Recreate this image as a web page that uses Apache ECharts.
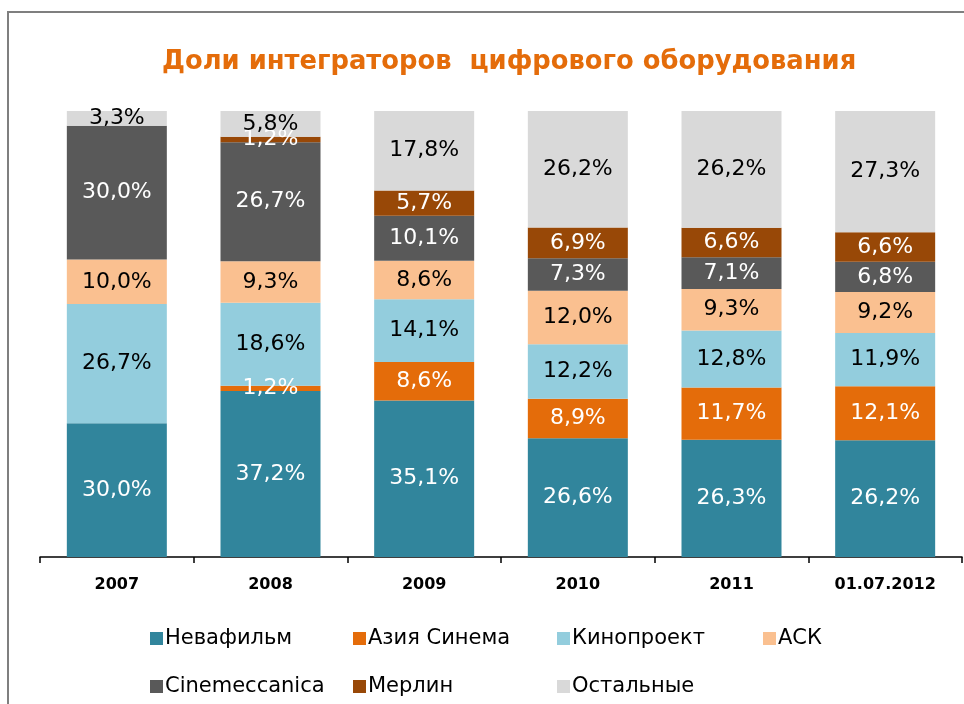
<!DOCTYPE html>
<html>
<head>
<meta charset="utf-8">
<script src="https://cdn.jsdelivr.net/npm/echarts@6/dist/echarts.min.js"></script>
<style>
  html, body { margin: 0; padding: 0; background: #fff; }
  #main { width: 964px; height: 704px; }
</style>
</head>
<body>
<div id="main"></div>
<script>
const categories = ['2007', '2008', '2009', '2010', '2011', '01.07.2012'];
const nevafilm = [30.0, 37.2, 35.1, 26.6, 26.3, 26.2];
const asiaCinema = [0, 1.2, 8.6, 8.9, 11.7, 12.1];
const kinoproekt = [26.7, 18.6, 14.1, 12.2, 12.8, 11.9];
const ask = [10.0, 9.3, 8.6, 12.0, 9.3, 9.2];
const cinemeccanica = [30.0, 26.7, 10.1, 7.3, 7.1, 6.8];
const merlin = [0, 1.2, 5.7, 6.9, 6.6, 6.6];
const others = [3.3, 5.8, 17.8, 26.2, 26.2, 27.3];

const font = 'DejaVu Sans';

// name, data, colour, label colour
const seriesDefs = [
  ['Невафильм', nevafilm, '#31859C', '#fff'],
  ['Азия Синема', asiaCinema, '#E46C0A', '#fff'],
  ['Кинопроект', kinoproekt, '#93CDDD', '#000'],
  ['АСК', ask, '#FAC090', '#000'],
  ['Cinemeccanica', cinemeccanica, '#595959', '#fff'],
  ['Мерлин', merlin, '#984807', '#fff'],
  ['Остальные', others, '#D9D9D9', '#000']
];

// legend slots: [left, top]
const legendPos = [
  [145, 623], [348, 623], [552, 623], [758, 623],
  [145, 671], [348, 671], [552, 671]
];

let myChart = echarts.init(document.getElementById('main'));

let option = {
  animation: false,
  title: {
    text: 'Доли интеграторов  цифрового оборудования',
    left: 157,
    top: 44,
    textStyle: { fontFamily: font, fontSize: 25.8, fontWeight: 'bold', color: '#E46C0A' }
  },
  graphic: [{
    type: 'rect',
    shape: { x: 8, y: 12, width: 1000, height: 800 },
    style: { fill: 'none', stroke: '#7f7f7f', lineWidth: 2 },
    silent: true
  }],
  legend: seriesDefs.map((s, i) => ({
    data: [s[0]],
    left: legendPos[i][0],
    top: legendPos[i][1],
    icon: 'rect',
    itemWidth: 13,
    itemHeight: 13,
    textStyle: { fontFamily: font, fontSize: 21, color: '#000', padding: [0, 0, 0, -3] }
  })),
  grid: { left: 40, top: 111, width: 922, height: 446 },
  xAxis: {
    type: 'category',
    data: categories,
    axisLine: { lineStyle: { color: '#000', width: 1.5 } },
    axisTick: { show: true, length: 6, lineStyle: { color: '#000', width: 1.5 } },
    axisLabel: { fontFamily: font, fontSize: 16, fontWeight: 'bold', color: '#000', margin: 20 }
  },
  yAxis: { type: 'value', min: 0, max: 100, show: false },
  series: seriesDefs.map(s => ({
    name: s[0],
    type: 'bar',
    stack: 'total',
    data: s[1],
    barWidth: 100,
    itemStyle: { color: s[2] },
    label: {
      show: true,
      position: 'inside',
      color: s[3],
      fontFamily: font,
      fontSize: 22,
      formatter: p => p.value ? p.value.toFixed(1).replace('.', ',') + '%' : ''
    }
  }))
};
myChart.setOption(option);
</script>
</body>
</html>
